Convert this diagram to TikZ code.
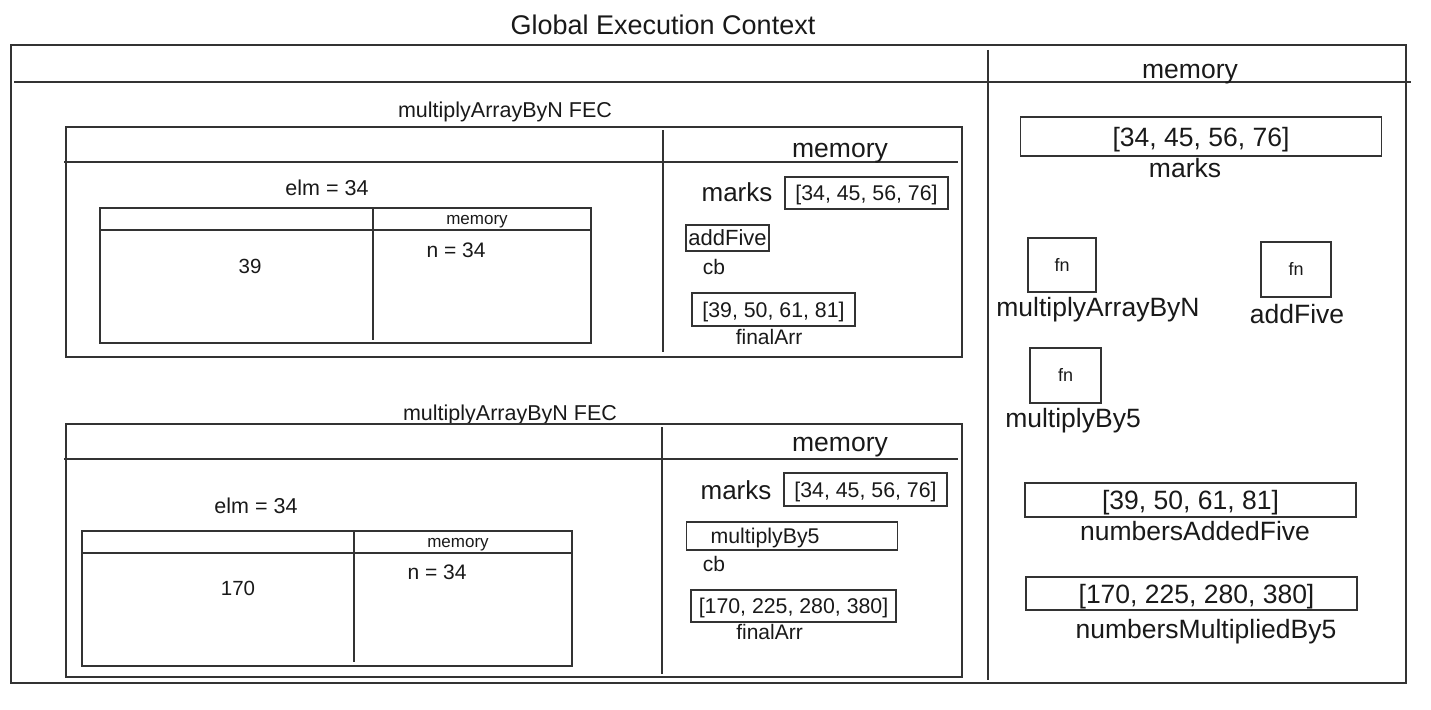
\documentclass[tikz,border=0pt]{standalone}
\usepackage{fontspec}
\setmainfont{Liberation Sans}
\newcommand{\fsize}[1]{\fontsize{#1}{0}\selectfont}

\tikzset{
	fs/.code={\pgfmathsetlengthmacro\fsh{0.72*#1}\pgfkeysalso{font=\fsize{#1}, text height=\fsh, text depth=0pt}},
}

\begin{document}
\begin{tikzpicture}[x=1pt, y=-1pt,
	frame/.style={draw=black!80, line width=1.3pt},
	lbl/.style={inner sep=0pt, text=black!90, fs=#1},
	cell/.style={draw=black!80, line width=1.3pt, inner sep=0pt, text=black!90, fs=#1}]
	\useasboundingbox (0,0) rectangle (1431,709);

	% global execution context
	\draw[frame] (11,45) rectangle (1406,683);
	\draw[frame] (14,82) -- (1411,82);
	\draw[frame] (988,50) -- (988,680);
	\node[lbl=27] (gec) at (663,25) {Global Execution Context};
	\node[lbl=26.5] (gmem) at (1190,69) {memory};

	% first multiplyArrayByN FEC
	\node[lbl=21.5] (fecA) at (505,110) {multiplyArrayByN FEC};
	\draw[frame] (66,127) rectangle (962,357);
	\draw[frame] (64,162) -- (958,162);
	\draw[frame] (663,130) -- (663,352);
	\node[lbl=21.5] (elmA) at (327,188) {elm = 34};
	\draw[frame] (100,208) rectangle (591,343);
	\draw[frame] (100,230) -- (591,230);
	\draw[frame] (373,208) -- (373,340);
	\node[lbl=17] (imemA) at (477,218) {memory};
	\node[lbl=20.5] (resA) at (250,266) {39};
	\node[lbl=21] (nA) at (456,250) {n = 34};

	\node[lbl=26.5] (memA) at (840,148) {memory};
	\node[lbl=26] (marksA) at (737,192) {marks};
	\node[cell=21.3, minimum width=163pt, minimum height=32pt] (arrA) at (866.5,193) {[34, 45, 56, 76]};
	\node[cell=22, minimum width=83pt, minimum height=26pt] (cbA) at (727.5,238) {addFive};
	\node[lbl=21] (cbtA) at (714,267) {cb};
	\node[cell=21.3, minimum width=163pt, minimum height=33pt] (finA) at (773.5,309.5) {[39, 50, 61, 81]};
	\node[lbl=21] (fintA) at (769,337) {finalArr};

	% second multiplyArrayByN FEC
	\node[lbl=21.5] (fecB) at (510,413) {multiplyArrayByN FEC};
	\draw[frame] (66,424) rectangle (962,677);
	\draw[frame] (64,459) -- (958,459);
	\draw[frame] (662,427) -- (662,674);
	\node[lbl=21.5] (elmB) at (256,506) {elm = 34};
	\draw[frame] (82,531) rectangle (572,666);
	\draw[frame] (82,553) -- (572,553);
	\draw[frame] (354,530) -- (354,662);
	\node[lbl=17] (imemB) at (458,541) {memory};
	\node[lbl=20.5] (resB) at (238,588) {170};
	\node[lbl=21] (nB) at (437,572) {n = 34};

	\node[lbl=26.5] (memB) at (840,442) {memory};
	\node[lbl=26] (marksB) at (736,490) {marks};
	\node[cell=21.3, minimum width=163pt, minimum height=33pt] (arrB) at (865.5,489.5) {[34, 45, 56, 76]};
	\node[cell=21.3, anchor=west, minimum height=28pt, inner xsep=24pt, text width=163pt, align=left] (cbB) at (686,536) {multiplyBy5};
	\node[lbl=21] (cbtB) at (714,564) {cb};
	\node[cell=21.3, minimum width=205pt, minimum height=32pt] (finB) at (793.5,606) {[170, 225, 280, 380]};
	\node[lbl=21] (fintB) at (769.5,632) {finalArr};

	% global memory
	\node[cell=26.5, minimum width=361pt, minimum height=39pt] (marks) at (1201,136.5) {[34, 45, 56, 76]};
	\node[lbl=26.5] (markst) at (1185,168) {marks};
	\node[cell=18, minimum width=68pt, minimum height=54pt] (fnA) at (1062,265) {fn};
	\node[lbl=26.5] (fnAt) at (1098,307) {multiplyArrayByN};
	\node[cell=18, minimum width=70pt, minimum height=55pt] (fnB) at (1296,269.5) {fn};
	\node[lbl=26.5] (fnBt) at (1297,314) {addFive};
	\node[cell=18, minimum width=71pt, minimum height=55pt] (fnC) at (1065.5,375.5) {fn};
	\node[lbl=26.5] (fnCt) at (1073,418) {multiplyBy5};
	\node[cell=26.5, minimum width=331pt, minimum height=34pt] (added) at (1190.5,500) {[39, 50, 61, 81]};
	\node[lbl=26.5] (addedt) at (1195,531) {numbersAddedFive};
	\node[cell=26.5, minimum width=331pt, minimum height=33pt] (multi) at (1191.5,593.5) {\hspace{10pt}[170, 225, 280, 380]};
	\node[lbl=26.5] (multit) at (1206,629) {numbersMultipliedBy5};
\end{tikzpicture}
\end{document}
